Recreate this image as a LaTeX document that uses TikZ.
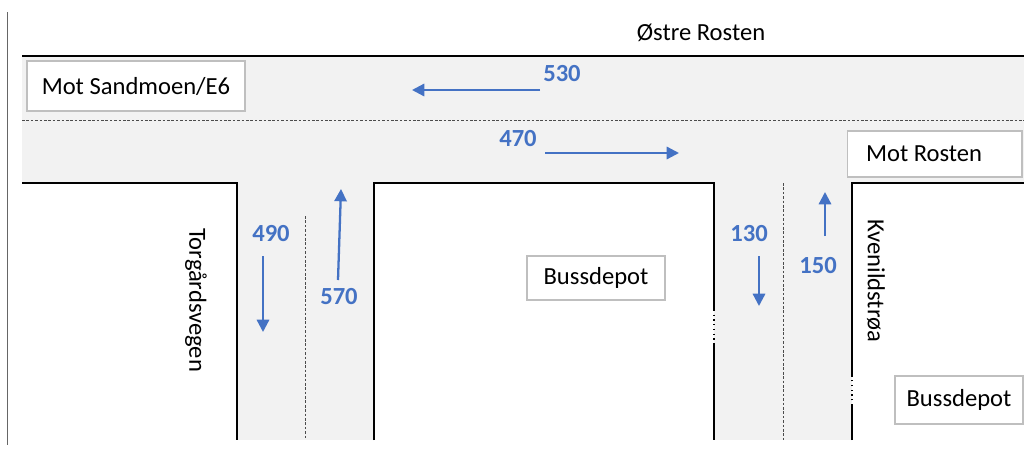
\documentclass[tikz,border=0pt]{standalone}
\usepackage{fontspec}
\setmainfont{Carlito}
\usepackage{tikz}
\usetikzlibrary{positioning, calc}
\usetikzlibrary{arrows.meta}
\definecolor{flowblue}{HTML}{4472C4}
\definecolor{roadgray}{HTML}{F2F2F2}
\definecolor{boxgray}{HTML}{BFBFBF}

\begin{document}
\begin{tikzpicture}[x=0.02cm,y=-0.02cm,draw=black!100]
	\def \roadtop{56}
	\def \roadmid{120}
	\def \roadbot{183}
	\def \basement{440}
	\tikzstyle{sign}=[draw=boxgray,fill=white,line width=0.6pt,inner sep=0pt,font=\fontsize{14}{16}\selectfont]
	\tikzstyle{count}=[text=flowblue,font=\fontsize{14}{16}\selectfont\bfseries,inner sep=1pt]
	\tikzstyle{street}=[font=\fontsize{14}{16}\selectfont,inner sep=1pt]
	\tikzstyle{flow}=[draw=flowblue,line width=1.3pt,-{Triangle[length=7pt,width=7pt]}]
	\tikzstyle{kerb}=[line width=0.7pt]
	\tikzstyle{lane}=[dashed,dash pattern=on 1.5pt off 1pt,line width=0.4pt,black!70]
	\useasboundingbox (0,0) rectangle (1024,450);

	% asphalt
	\fill[roadgray] (22,\roadtop) rectangle (1024,\roadbot);
	\fill[roadgray] (237,\roadbot) rectangle (374,\basement);
	\fill[roadgray] (714,\roadbot) rectangle (852,\basement);

	% kerbs
	\draw[black!60,line width=0.5pt] (7,12) -- (7,445);
	\draw[kerb] (22,\roadtop) -- (1024,\roadtop);
	\draw[kerb] (22,\roadbot) -- (237,\roadbot) -- (237,\basement);
	\draw[kerb] (374,\basement) -- (374,\roadbot) -- (714,\roadbot) -- (714,310);
	\draw[kerb,dotted] (714,310) -- (714,343);
	\draw[kerb] (714,343) -- (714,\basement);
	\draw[kerb] (852,\basement) -- (852,405);
	\draw[kerb,dotted] (852,405) -- (852,376);
	\draw[kerb] (852,376) -- (852,\roadbot) -- (1024,\roadbot);

	% lane markings
	\draw[lane] (22,\roadmid) -- (1024,\roadmid);
	\draw[lane] (305,216) -- (305,\basement);
	\draw[lane] (783,\roadbot) -- (783,\basement);

	% signs
	\node[sign,minimum width=4.36cm,minimum height=1cm] (sandmoen) at (136,86) {Mot Sandmoen/E6};
	\node[sign,minimum width=3.5cm,minimum height=0.92cm] (rosten) at (934.5,154) {\makebox[2.74cm][l]{Mot Rosten}};
	\node[sign,minimum width=2.76cm,minimum height=0.88cm] (depot) at (596,278) {Bussdepot};
	\node[sign,minimum width=2.56cm,minimum height=0.96cm] (depotb) at (959,400) {Bussdepot};

	% street names
	\node[street] (ostre) at (701,33) {Østre Rosten};
	\node[street,rotate=-90] (torg) at (196,300) {Torgårdsvegen};
	\node[street,rotate=-90] (kvenild) at (876,281) {Kvenildstrøa};

	% counts
	\node[count] (c530) at (562,74) {530};
	\node[count] (c470) at (518,139) {470};
	\node[count] (c490) at (271,234) {490};
	\node[count] (c570) at (339,297) {570};
	\node[count] (c130) at (749,234) {130};
	\node[count] (c150) at (818,266) {150};

	% arrow ends
	\coordinate (w0) at (540,90);  \coordinate (w1) at (412,90);
	\coordinate (e0) at (545,153); \coordinate (e1) at (679,153);
	\coordinate (s0) at (263,256); \coordinate (s1) at (263,332);
	\coordinate (n0) at (338,280); \coordinate (n1) at (341,189);
	\coordinate (t0) at (759,256); \coordinate (t1) at (759,306);
	\coordinate (u0) at (825,236); \coordinate (u1) at (825,192);

	\path
		(w0)	edge[flow]	(w1)
		(e0)	edge[flow]	(e1)
		%
		(s0)	edge[flow]	(s1)
		(n0)	edge[flow]	(n1)
		%
		(t0)	edge[flow]	(t1)
		(u0)	edge[flow]	(u1);

\end{tikzpicture}
\end{document}
